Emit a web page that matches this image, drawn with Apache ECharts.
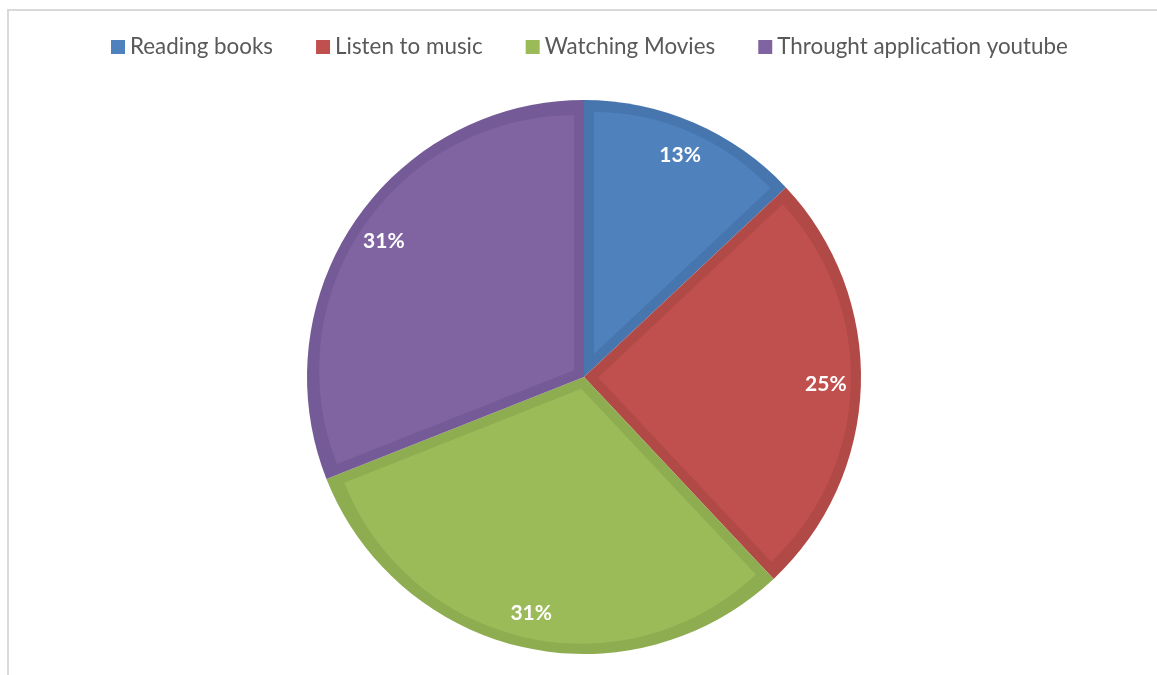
<!DOCTYPE html>
<html>
<head>
<meta charset="utf-8">
<script src="https://cdn.jsdelivr.net/npm/echarts@6/dist/echarts.min.js"></script>
<style>
  html, body { margin: 0; padding: 0; background: #ffffff; }
  #chart { width: 1157px; height: 675px; }
</style>
</head>
<body>
<div id="chart"></div>
<script>
// Leisure activities, share of respondents (%)
const categories = ['Reading books', 'Listen to music', 'Watching Movies', 'Throught application youtube'];
const shares = [13, 25, 31, 31];
const faceColors = ['#4F81BD', '#C0504D', '#9BBB59', '#8064A2'];
const edgeColors = ['#4776AF', '#B14946', '#8EAD51', '#745A96'];

const FONT = 'Lato, "Open Sans", sans-serif';
const CENTER = [584, 377];
const R = 277;      // outer radius of the pie
const BAND = 10;    // width of the darker rim drawn inside every slice
const total = shares.reduce((a, b) => a + b, 0);

// Bottom layer: full slices in the darker rim colour
const rimSeries = {
  type: 'pie',
  name: 'rim',
  center: CENTER,
  radius: [0, R],
  startAngle: 90,
  clockwise: true,
  silent: true,
  emphasis: { disabled: true },
  label: { show: false },
  labelLine: { show: false },
  z: 1,
  data: categories.map((name, i) => ({ name, value: shares[i], itemStyle: { color: edgeColors[i] } }))
};

// One face per slice: the lighter fill, pushed out along its bisector so that
// its straight edges sit BAND px inside the rim on both sides.
const faceSeries = categories.map((name, i) => {
  const half = Math.PI * shares[i] / total;
  const shift = BAND / Math.sin(half);
  return {
    type: 'pie',
    name: 'face' + i,
    center: CENTER,
    radius: [0, R - BAND - shift],
    startAngle: 90,
    clockwise: true,
    selectedMode: 'multiple',
    selectedOffset: shift,
    emphasis: { disabled: true },
    label: { show: false },
    labelLine: { show: false },
    z: 2,
    data: categories.map((n, j) => ({
      name: n,
      value: shares[j],
      selected: j === i,
      itemStyle: { color: j === i ? faceColors[j] : 'rgba(0,0,0,0)', borderWidth: 0 },
      select: { itemStyle: { color: j === i ? faceColors[j] : 'rgba(0,0,0,0)' } }
    }))
  };
});

// Percentage labels, placed on a transparent ring near the rim
const labelSeries = {
  type: 'pie',
  name: 'labels',
  center: CENTER,
  radius: [203, 275],
  startAngle: 90,
  clockwise: true,
  silent: true,
  emphasis: { disabled: true },
  itemStyle: { color: 'rgba(0,0,0,0)' },
  label: {
    show: true,
    position: 'inside',
    formatter: p => p.value + '%',
    color: '#ffffff',
    fontFamily: FONT,
    fontWeight: 'bold',
    fontSize: 21
  },
  labelLine: { show: false },
  z: 3,
  data: categories.map((name, i) => ({ name, value: shares[i] }))
};

const chart = echarts.init(document.getElementById('chart'), null, { renderer: 'canvas' });
chart.setOption({
  animation: false,
  backgroundColor: '#ffffff',
  legend: {
    top: 31,
    left: 106,
    icon: 'rect',
    itemWidth: 14,
    itemHeight: 14,
    itemGap: 43,
    selectedMode: false,
    textStyle: { fontFamily: FONT, fontSize: 22.4, color: '#595959' },
    data: categories.map((name, i) => ({ name, itemStyle: { color: faceColors[i] } }))
  },
  graphic: [{
    type: 'rect',
    silent: true,
    z: -10,
    shape: { x: 8, y: 10, width: 1400, height: 900 },
    style: { fill: 'none', stroke: '#D9D9D9', lineWidth: 2 }
  }],
  series: [rimSeries, ...faceSeries, labelSeries]
});
</script>
</body>
</html>
